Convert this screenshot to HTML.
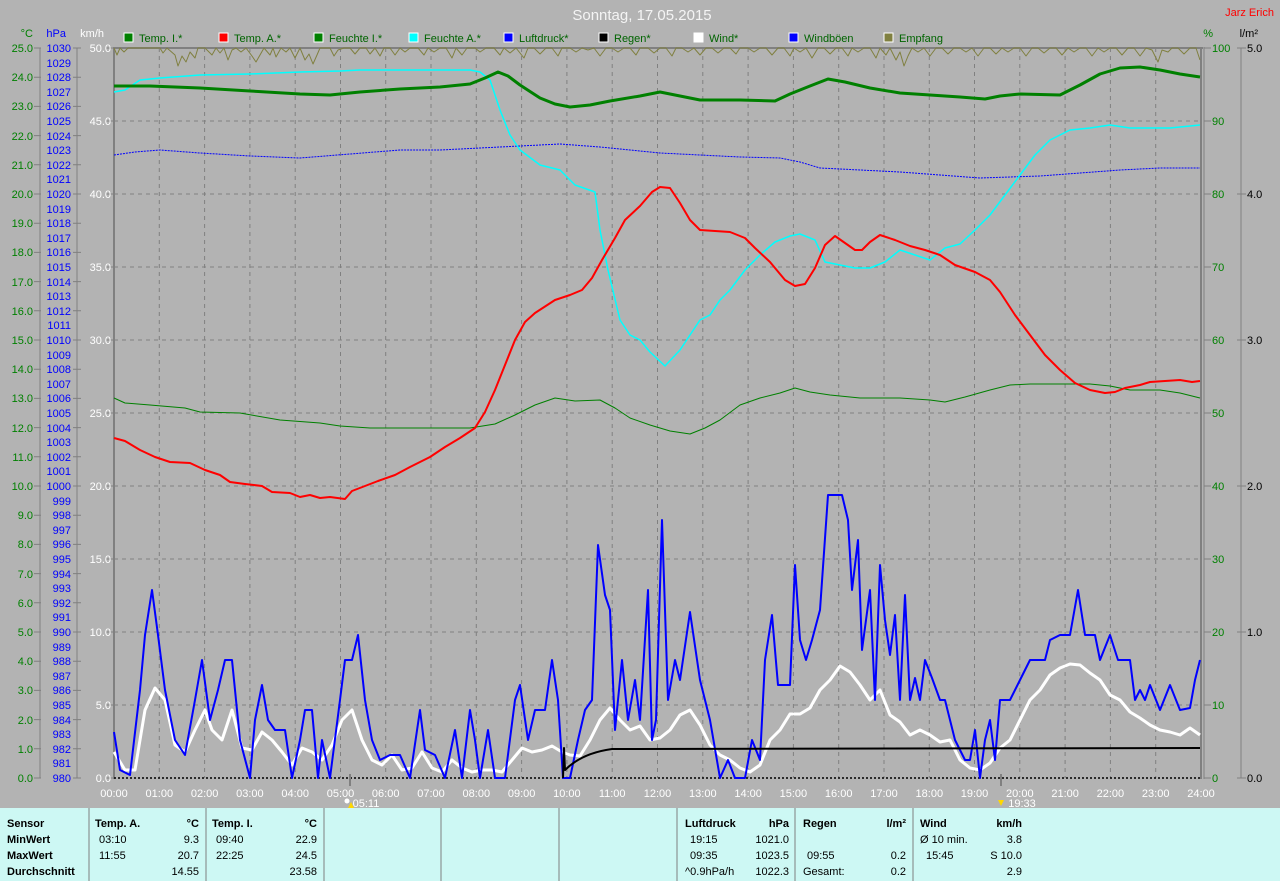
<!DOCTYPE html>
<html><head><meta charset="utf-8"><style>
html,body{margin:0;padding:0;background:#b3b3b3;}
svg{display:block;font-family:"Liberation Sans",sans-serif;}
</style></head><body>
<svg width="1280" height="881" viewBox="0 0 1280 881" xmlns="http://www.w3.org/2000/svg">
<rect width="1280" height="881" fill="#b3b3b3"/>
<text x="642" y="20" font-size="15" fill="#f4f4f4" text-anchor="middle">Sonntag, 17.05.2015</text>
<text x="1274" y="16" font-size="11" fill="#ff0000" text-anchor="end">Jarz Erich</text>
<!-- legend -->
<g font-size="11" fill="#006400">
<rect x="124" y="33" width="9" height="9" fill="#008000" stroke="#fff"/><text x="139" y="42">Temp. I.*</text>
<rect x="219" y="33" width="9" height="9" fill="#ff0000" stroke="#fff"/><text x="234" y="42">Temp. A.*</text>
<rect x="314" y="33" width="9" height="9" fill="#008000" stroke="#fff"/><text x="329" y="42">Feuchte I.*</text>
<rect x="409" y="33" width="9" height="9" fill="#00ffff" stroke="#fff"/><text x="424" y="42">Feuchte A.*</text>
<rect x="504" y="33" width="9" height="9" fill="#0000ff" stroke="#fff"/><text x="519" y="42">Luftdruck*</text>
<rect x="599" y="33" width="9" height="9" fill="#000000" stroke="#fff"/><text x="614" y="42">Regen*</text>
<rect x="694" y="33" width="9" height="9" fill="#ffffff" stroke="#fff"/><text x="709" y="42">Wind*</text>
<rect x="789" y="33" width="9" height="9" fill="#0000ff" stroke="#fff"/><text x="804" y="42">Windböen</text>
<rect x="884" y="33" width="9" height="9" fill="#808040" stroke="#fff"/><text x="899" y="42">Empfang</text>
</g>
<text x="33" y="37" font-size="11" fill="#008000" text-anchor="end">°C</text>
<text x="66" y="37" font-size="11" fill="#0000ff" text-anchor="end">hPa</text>
<text x="104" y="37" font-size="11" fill="#ffffff" text-anchor="end">km/h</text>
<text x="1213" y="37" font-size="11" fill="#008000" text-anchor="end">%</text>
<text x="1258" y="37" font-size="11" fill="#000" text-anchor="end">l/m²</text>
<!-- axis lines -->
<g stroke="#808080" stroke-width="1">
<line x1="40" y1="48" x2="40" y2="778"/>
<line x1="77" y1="48" x2="77" y2="778"/>
<line x1="1241" y1="48" x2="1241" y2="778"/>
</g>
<!-- grid -->
<g stroke="#808080" stroke-dasharray="4,4" stroke-width="1">
<line x1="114" y1="121" x2="1201" y2="121"/><line x1="114" y1="194" x2="1201" y2="194"/>
<line x1="114" y1="267" x2="1201" y2="267"/><line x1="114" y1="340" x2="1201" y2="340"/>
<line x1="114" y1="413" x2="1201" y2="413"/><line x1="114" y1="486" x2="1201" y2="486"/>
<line x1="114" y1="559" x2="1201" y2="559"/><line x1="114" y1="632" x2="1201" y2="632"/>
<line x1="114" y1="705" x2="1201" y2="705"/>
<line x1="159.3" y1="48" x2="159.3" y2="778"/><line x1="204.6" y1="48" x2="204.6" y2="778"/>
<line x1="249.9" y1="48" x2="249.9" y2="778"/><line x1="295.2" y1="48" x2="295.2" y2="778"/>
<line x1="340.5" y1="48" x2="340.5" y2="778"/><line x1="385.7" y1="48" x2="385.7" y2="778"/>
<line x1="431" y1="48" x2="431" y2="778"/><line x1="476.3" y1="48" x2="476.3" y2="778"/>
<line x1="521.6" y1="48" x2="521.6" y2="778"/><line x1="566.9" y1="48" x2="566.9" y2="778"/>
<line x1="612.2" y1="48" x2="612.2" y2="778"/><line x1="657.5" y1="48" x2="657.5" y2="778"/>
<line x1="702.8" y1="48" x2="702.8" y2="778"/><line x1="748.1" y1="48" x2="748.1" y2="778"/>
<line x1="793.4" y1="48" x2="793.4" y2="778"/><line x1="838.7" y1="48" x2="838.7" y2="778"/>
<line x1="884" y1="48" x2="884" y2="778"/><line x1="929.3" y1="48" x2="929.3" y2="778"/>
<line x1="974.5" y1="48" x2="974.5" y2="778"/><line x1="1019.8" y1="48" x2="1019.8" y2="778"/>
<line x1="1065.1" y1="48" x2="1065.1" y2="778"/><line x1="1110.4" y1="48" x2="1110.4" y2="778"/>
<line x1="1155.7" y1="48" x2="1155.7" y2="778"/>
</g>
<!-- plot frame -->
<line x1="113" y1="48" x2="1203" y2="48" stroke="#808080" stroke-width="2"/>
<line x1="114" y1="47" x2="114" y2="779" stroke="#808080" stroke-width="2"/>
<line x1="1201" y1="47" x2="1201" y2="779" stroke="#808080" stroke-width="2"/>
<line x1="1204" y1="47" x2="1204" y2="779" stroke="#808080" stroke-width="1"/>
<line x1="114" y1="778" x2="1201" y2="778" stroke="#000" stroke-width="1.5" stroke-dasharray="2,2"/>

<!-- °C labels -->
<g font-size="11" fill="#008000" text-anchor="end">
<text x="33" y="52">25.0</text><text x="33" y="81">24.0</text><text x="33" y="110">23.0</text><text x="33" y="140">22.0</text><text x="33" y="169">21.0</text><text x="33" y="198">20.0</text><text x="33" y="227">19.0</text><text x="33" y="256">18.0</text><text x="33" y="286">17.0</text><text x="33" y="315">16.0</text><text x="33" y="344">15.0</text><text x="33" y="373">14.0</text><text x="33" y="402">13.0</text><text x="33" y="432">12.0</text><text x="33" y="461">11.0</text><text x="33" y="490">10.0</text><text x="33" y="519">9.0</text><text x="33" y="548">8.0</text><text x="33" y="578">7.0</text><text x="33" y="607">6.0</text><text x="33" y="636">5.0</text><text x="33" y="665">4.0</text><text x="33" y="694">3.0</text><text x="33" y="724">2.0</text><text x="33" y="753">1.0</text><text x="33" y="782">0.0</text>
</g>
<g stroke="#808080"><path d="M34 48h7M34 77.2h7M34 106.4h7M34 135.6h7M34 164.8h7M34 194h7M34 223.2h7M34 252.4h7M34 281.6h7M34 310.8h7M34 340h7M34 369.2h7M34 398.4h7M34 427.6h7M34 456.8h7M34 486h7M34 515.2h7M34 544.4h7M34 573.6h7M34 602.8h7M34 632h7M34 661.2h7M34 690.4h7M34 719.6h7M34 748.8h7M34 778h7"/>
<path d="M73 48h8M73 77.2h8M73 106.4h8M73 135.6h8M73 164.8h8M73 194h8M73 223.2h8M73 252.4h8M73 281.6h8M73 310.8h8M73 340h8M73 369.2h8M73 398.4h8M73 427.6h8M73 456.8h8M73 486h8M73 515.2h8M73 544.4h8M73 573.6h8M73 602.8h8M73 632h8M73 661.2h8M73 690.4h8M73 719.6h8M73 748.8h8M73 778h8"/>
<path d="M106 48h8M106 121h8M106 194h8M106 267h8M106 340h8M106 413h8M106 486h8M106 559h8M106 632h8M106 705h8M106 778h8"/>
<path d="M1204 48h7M1204 121h7M1204 194h7M1204 267h7M1204 340h7M1204 413h7M1204 486h7M1204 559h7M1204 632h7M1204 705h7M1204 778h7"/>
<path d="M1237 48h9M1237 194h9M1237 340h9M1237 486h9M1237 632h9M1237 778h9"/>
</g>
<!-- hPa labels -->
<g font-size="11" fill="#0000ff" text-anchor="end">
<text x="71" y="52">1030</text><text x="71" y="67">1029</text><text x="71" y="81">1028</text><text x="71" y="96">1027</text><text x="71" y="110">1026</text><text x="71" y="125">1025</text><text x="71" y="140">1024</text><text x="71" y="154">1023</text><text x="71" y="169">1022</text><text x="71" y="183">1021</text><text x="71" y="198">1020</text><text x="71" y="213">1019</text><text x="71" y="227">1018</text><text x="71" y="242">1017</text><text x="71" y="256">1016</text><text x="71" y="271">1015</text><text x="71" y="286">1014</text><text x="71" y="300">1013</text><text x="71" y="315">1012</text><text x="71" y="329">1011</text><text x="71" y="344">1010</text><text x="71" y="359">1009</text><text x="71" y="373">1008</text><text x="71" y="388">1007</text><text x="71" y="402">1006</text><text x="71" y="417">1005</text><text x="71" y="432">1004</text><text x="71" y="446">1003</text><text x="71" y="461">1002</text><text x="71" y="475">1001</text><text x="71" y="490">1000</text><text x="71" y="505">999</text><text x="71" y="519">998</text><text x="71" y="534">997</text><text x="71" y="548">996</text><text x="71" y="563">995</text><text x="71" y="578">994</text><text x="71" y="592">993</text><text x="71" y="607">992</text><text x="71" y="621">991</text><text x="71" y="636">990</text><text x="71" y="651">989</text><text x="71" y="665">988</text><text x="71" y="680">987</text><text x="71" y="694">986</text><text x="71" y="709">985</text><text x="71" y="724">984</text><text x="71" y="738">983</text><text x="71" y="753">982</text><text x="71" y="767">981</text><text x="71" y="782">980</text>
</g>
<g font-size="11" fill="#ffffff" text-anchor="end">
<text x="111" y="52">50.0</text><text x="111" y="125">45.0</text><text x="111" y="198">40.0</text><text x="111" y="271">35.0</text><text x="111" y="344">30.0</text><text x="111" y="417">25.0</text><text x="111" y="490">20.0</text><text x="111" y="563">15.0</text><text x="111" y="636">10.0</text><text x="111" y="709">5.0</text><text x="111" y="782">0.0</text>
</g>
<g font-size="11" fill="#008000">
<text x="1212" y="52">100</text><text x="1212" y="125">90</text><text x="1212" y="198">80</text><text x="1212" y="271">70</text><text x="1212" y="344">60</text><text x="1212" y="417">50</text><text x="1212" y="490">40</text><text x="1212" y="563">30</text><text x="1212" y="636">20</text><text x="1212" y="709">10</text><text x="1212" y="782">0</text>
</g>
<g font-size="11" fill="#000">
<text x="1247" y="52">5.0</text><text x="1247" y="198">4.0</text><text x="1247" y="344">3.0</text><text x="1247" y="490">2.0</text><text x="1247" y="636">1.0</text><text x="1247" y="782">0.0</text>
</g>
<!-- x labels -->
<g font-size="11" fill="#ffffff" text-anchor="middle">
<text x="114" y="797">00:00</text><text x="159.3" y="797">01:00</text><text x="204.6" y="797">02:00</text><text x="249.9" y="797">03:00</text><text x="295.2" y="797">04:00</text><text x="340.5" y="797">05:00</text><text x="385.7" y="797">06:00</text><text x="431" y="797">07:00</text><text x="476.3" y="797">08:00</text><text x="521.6" y="797">09:00</text><text x="566.9" y="797">10:00</text><text x="612.2" y="797">11:00</text><text x="657.5" y="797">12:00</text><text x="702.8" y="797">13:00</text><text x="748.1" y="797">14:00</text><text x="793.4" y="797">15:00</text><text x="838.7" y="797">16:00</text><text x="884" y="797">17:00</text><text x="929.3" y="797">18:00</text><text x="974.5" y="797">19:00</text><text x="1019.8" y="797">20:00</text><text x="1065.1" y="797">21:00</text><text x="1110.4" y="797">22:00</text><text x="1155.7" y="797">23:00</text><text x="1201" y="797">24:00</text>
<text x="366" y="807">05:11</text><text x="1022" y="807">19:33</text>
</g>
<line x1="350" y1="774" x2="350" y2="786" stroke="#808080" stroke-width="2"/>
<line x1="1001" y1="774" x2="1001" y2="786" stroke="#808080" stroke-width="2"/>
<path d="M348 808l3-6 3 6z" fill="#ffd800"/><circle cx="347" cy="801" r="2.5" fill="#fff"/>
<path d="M998 800l3 6 3-6z" fill="#ffd800"/>

<!-- series -->
<g fill="none" stroke-linejoin="round">
<polyline stroke="#808040" stroke-width="1" points="114,48 117,55 120,48 124,52 128,48 133,48 138,48 143,48 148,48 152,48 160,48 163,53 167,48 175,55 178,66 182,56 186,62 190,52 195,58 198,48 205,48 212,55 216,48 220,53 224,48 228,60 232,50 236,48 241,52 246,48 252,56 256,62 260,55 264,48 270,55 273,48 276,57 281,48 286,52 290,48 295,58 300,48 305,60 309,54 313,64 317,55 320,48 326,48 330,48 334,56 338,50 344,48 350,48 355,54 360,48 366,48 370,54 375,48 380,56 384,48 390,48 395,55 400,48 405,52 410,48 418,48 424,55 428,48 434,52 440,48 446,48 452,58 456,48 462,55 467,48 475,48 480,52 486,48 494,48 500,55 504,48 510,53 516,48 524,58 528,48 534,48 540,54 546,48 552,48 558,56 562,48 570,48 576,52 582,48 588,50 594,48 600,56 606,48 612,48 618,52 624,48 630,48 636,55 640,48 648,48 654,53 660,48 666,48 672,56 676,48 682,48 688,52 694,48 700,55 706,48 712,48 718,53 724,48 730,48 736,54 740,48 748,48 754,52 760,48 766,48 772,55 778,48 784,48 790,56 794,48 800,52 806,48 812,58 818,48 824,48 830,54 836,48 842,48 848,56 852,48 858,52 864,48 870,48 876,58 880,48 886,55 890,48 896,60 900,52 904,66 908,56 912,48 918,52 924,48 930,56 936,48 942,48 948,54 954,48 960,48 966,52 972,48 978,56 984,48 990,48 996,54 1002,48 1008,52 1014,48 1020,48 1026,56 1032,48 1038,48 1044,53 1050,48 1056,48 1062,55 1068,48 1074,52 1080,48 1086,48 1092,56 1098,48 1104,52 1110,48 1116,48 1122,55 1128,48 1134,48 1140,56 1146,48 1152,50 1158,62 1162,50 1168,52 1172,48 1178,48 1184,54 1190,48 1196,48 1200,60"/>
<polyline stroke="#0000ff" stroke-width="1" stroke-dasharray="2,1" points="114,155 135,152 160,150 200,153 250,156 300,158 350,154 400,150 440,150 480,148 520,146 560,144 600,147 630,150 660,153 700,155 740,157 780,158 800,162 820,168 860,170 900,172 940,175 980,178 1010,177 1040,176 1080,173 1120,170 1160,168 1200,168"/>
<polyline stroke="#00ffff" stroke-width="1.5" points="114,92 125,90 140,80 160,78 200,75 250,74 300,72 340,71 360,70 400,70 440,70 470,70 480,72 490,80 500,110 510,135 520,150 540,165 560,170 575,185 595,192 600,230 608,270 620,320 630,335 640,340 650,352 665,366 680,350 690,335 700,320 710,315 720,300 730,290 745,270 760,255 775,242 790,236 800,234 815,240 825,262 840,265 855,268 870,268 885,262 900,250 915,255 930,260 945,248 960,244 975,230 990,215 1005,195 1020,175 1035,155 1050,140 1070,130 1090,128 1110,125 1130,128 1150,128 1170,128 1190,126 1200,125"/>
<polyline stroke="#008000" stroke-width="3" points="114,86 150,86 200,88 250,91 300,94 330,95 360,92 400,89 440,87 470,84 485,78 498,72 508,76 520,85 540,98 555,104 570,107 590,105 610,101 640,96 660,92 680,96 700,100 740,100 775,101 790,94 810,86 828,79 845,82 870,88 900,93 930,95 960,97 985,99 1000,96 1020,94 1060,95 1080,85 1100,74 1120,68 1140,67 1160,70 1180,74 1200,77"/>
<polyline stroke="#008000" stroke-width="1" points="114,398 125,403 150,405 185,408 200,412 240,413 280,420 320,423 340,426 370,428 400,428 440,428 470,428 495,424 515,415 535,405 555,398 575,401 600,400 615,408 630,418 650,425 670,431 690,434 705,428 720,420 740,405 760,398 780,393 795,388 810,392 830,395 860,398 900,398 930,400 945,402 965,397 990,390 1010,385 1030,384 1060,384 1090,384 1110,386 1130,390 1160,390 1180,393 1200,398"/>
<polyline stroke="#ff0000" stroke-width="2" points="114,438 125,441 140,450 155,457 170,462 190,463 205,470 220,475 230,482 245,484 262,486 272,492 290,493 300,497 310,495 320,498 330,497 345,499 352,491 365,486 378,481 395,475 410,467 430,457 445,447 460,438 475,428 485,412 495,390 505,365 515,340 525,322 535,313 555,300 570,295 582,290 592,278 602,260 615,238 625,220 640,206 652,192 660,187 670,188 680,203 690,220 700,230 715,231 730,232 745,238 755,248 770,262 785,280 795,286 805,284 815,268 825,245 835,236 845,243 855,250 862,250 870,242 880,235 895,240 910,246 925,250 940,255 955,265 975,272 990,280 1000,292 1015,315 1030,335 1045,355 1060,370 1075,383 1090,390 1105,393 1115,392 1125,388 1140,385 1150,382 1165,381 1180,380 1192,382 1200,381"/>
<polyline stroke="#ffffff" stroke-width="3" points="114,752 125,770 135,770 145,710 155,688 165,700 175,745 185,752 195,730 205,710 212,730 222,740 232,710 242,748 252,750 262,732 272,740 282,752 292,765 302,748 312,752 322,760 332,745 342,720 352,710 362,740 372,760 382,765 392,755 402,770 412,768 422,752 432,768 442,772 452,760 462,768 472,772 482,770 492,770 502,772 512,760 522,748 532,752 542,750 552,746 562,752 570,755 580,756 590,740 600,720 610,708 620,720 630,730 640,726 650,740 660,738 670,730 680,715 690,710 700,725 710,745 720,755 730,760 740,768 750,772 760,765 770,740 780,730 790,714 800,714 810,708 820,690 830,680 840,666 850,672 860,685 870,700 880,690 890,715 900,722 910,735 920,730 930,735 940,742 950,740 960,760 970,768 980,770 990,763 1000,748 1010,740 1020,720 1030,700 1040,690 1050,675 1060,668 1070,664 1080,665 1090,673 1100,680 1110,695 1120,700 1130,712 1140,718 1150,725 1160,730 1170,732 1180,735 1190,728 1200,735"/>
<polyline stroke="#0000ff" stroke-width="2" points="114,732 120,770 130,775 140,690 145,635 152,590 158,635 165,690 175,740 185,755 195,700 202,660 210,720 218,690 225,660 232,660 240,740 250,778 255,720 262,685 268,720 275,730 285,730 292,778 300,740 305,710 312,710 318,778 322,740 330,778 340,700 345,660 352,660 358,635 365,700 372,740 380,760 390,755 400,755 410,778 420,710 425,750 435,755 445,778 455,730 462,778 470,710 475,740 480,778 488,730 495,778 505,778 515,700 520,685 528,740 535,710 545,710 552,660 558,700 563,778 570,778 578,740 585,710 592,700 598,545 605,595 610,610 615,730 622,660 628,720 635,680 640,720 648,590 652,740 656,720 662,520 668,700 675,660 680,680 690,612 700,680 710,720 720,778 728,760 735,778 745,778 752,740 760,760 765,660 772,615 778,685 790,685 795,565 800,640 806,660 812,640 820,610 828,495 842,495 848,520 852,590 858,540 862,650 870,590 875,700 880,565 885,620 890,655 895,615 900,700 905,595 910,700 915,678 920,700 925,660 932,678 940,700 945,700 955,740 965,760 970,760 975,730 980,778 985,740 990,720 995,760 1000,700 1010,700 1020,680 1030,660 1045,660 1050,640 1060,635 1070,635 1078,590 1085,635 1095,635 1100,660 1110,635 1118,660 1130,660 1135,700 1140,690 1145,700 1150,685 1160,710 1170,685 1180,710 1190,708 1195,680 1200,660"/>
<path d="M563 778 L564 748 L565 770 C575 760 590 752 612 749 L1200 748" stroke="#000" stroke-width="2"/>
</g>

<!-- table -->
<rect x="0" y="808" width="1280" height="73" fill="#cdf8f4"/>
<g stroke="#808080" stroke-width="1">
<line x1="89" y1="808" x2="89" y2="881"/><line x1="206" y1="808" x2="206" y2="881"/><line x1="324" y1="808" x2="324" y2="881"/><line x1="441" y1="808" x2="441" y2="881"/><line x1="559" y1="808" x2="559" y2="881"/><line x1="677" y1="808" x2="677" y2="881"/><line x1="795" y1="808" x2="795" y2="881"/><line x1="913" y1="808" x2="913" y2="881"/>
</g>
<g font-size="11" fill="#000">
<g font-weight="bold"><text x="7" y="827">Sensor</text><text x="7" y="843">MinWert</text><text x="7" y="859">MaxWert</text><text x="7" y="875">Durchschnitt</text>
<text x="95" y="827">Temp. A.</text><text x="199" y="827" text-anchor="end">°C</text>
<text x="212" y="827">Temp. I.</text><text x="317" y="827" text-anchor="end">°C</text>
<text x="685" y="827">Luftdruck</text><text x="789" y="827" text-anchor="end">hPa</text>
<text x="803" y="827">Regen</text><text x="906" y="827" text-anchor="end">l/m²</text>
<text x="920" y="827">Wind</text><text x="1022" y="827" text-anchor="end">km/h</text></g>
<text x="99" y="843">03:10</text><text x="199" y="843" text-anchor="end">9.3</text>
<text x="99" y="859">11:55</text><text x="199" y="859" text-anchor="end">20.7</text>
<text x="199" y="875" text-anchor="end">14.55</text>
<text x="216" y="843">09:40</text><text x="317" y="843" text-anchor="end">22.9</text>
<text x="216" y="859">22:25</text><text x="317" y="859" text-anchor="end">24.5</text>
<text x="317" y="875" text-anchor="end">23.58</text>
<text x="690" y="843">19:15</text><text x="789" y="843" text-anchor="end">1021.0</text>
<text x="690" y="859">09:35</text><text x="789" y="859" text-anchor="end">1023.5</text>
<text x="685" y="875">^0.9hPa/h</text><text x="789" y="875" text-anchor="end">1022.3</text>
<text x="807" y="859">09:55</text><text x="906" y="859" text-anchor="end">0.2</text>
<text x="803" y="875">Gesamt:</text><text x="906" y="875" text-anchor="end">0.2</text>
<text x="920" y="843">Ø 10 min.</text><text x="1022" y="843" text-anchor="end">3.8</text>
<text x="926" y="859">15:45</text><text x="1022" y="859" text-anchor="end">S 10.0</text>
<text x="1022" y="875" text-anchor="end">2.9</text>
</g>
</svg>
</body></html>
